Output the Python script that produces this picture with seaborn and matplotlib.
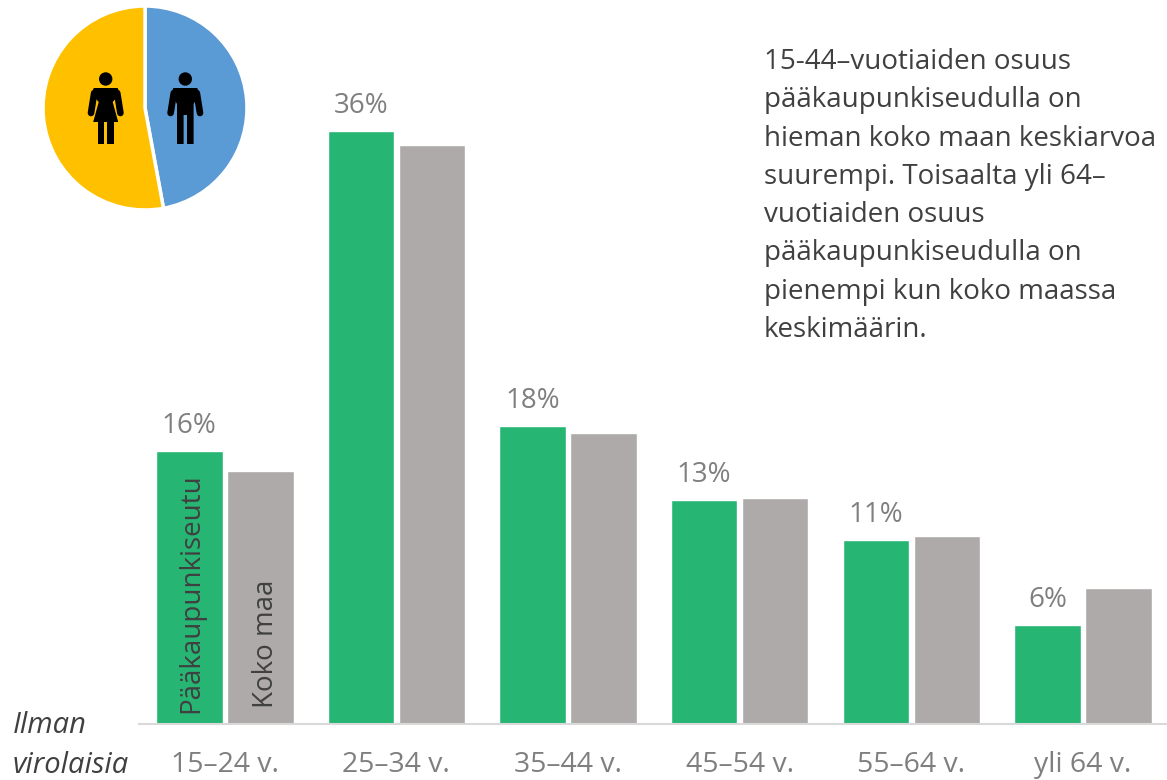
import pandas as pd
import seaborn as sns
import matplotlib.pyplot as plt
from matplotlib.patches import Circle, Polygon

# Data
age_groups = ['15–24 v.', '25–34 v.', '35–44 v.', '45–54 v.', '55–64 v.', 'yli 64 v.']
metro = [16.6, 36.05, 18.1, 13.6, 11.2, 6.0]
whole_country = [15.35, 35.2, 17.7, 13.75, 11.45, 8.25]
metro_labels = ['16%', '36%', '18%', '13%', '11%', '6%']
gender_labels = ['Miehet', 'Naiset']
gender_share = [47.1, 52.9]

note = ('15-44–vuotiaiden osuus\n'
        'pääkaupunkiseudulla on\n'
        'hieman koko maan keskiarvoa\n'
        'suurempi. Toisaalta yli 64–\n'
        'vuotiaiden osuus\n'
        'pääkaupunkiseudulla on\n'
        'pienempi kun koko maassa\n'
        'keskimäärin.')

W, H = 1167, 780
GREEN = '#27B574'
GRAY = '#AEAAAA'
TEXT_GRAY = '#7F7F7F'
TEXT_DARK = '#404040'

sns.set_theme(style='white')
plt.rcParams['font.family'] = ['Open Sans', 'DejaVu Sans']

df = pd.DataFrame({'age': age_groups, 'Pääkaupunkiseutu': metro, 'Koko maa': whole_country})
df = df.melt(id_vars='age', var_name='area', value_name='share')

fig = plt.figure(figsize=(W / 100, H / 100), dpi=100)
ax = fig.add_axes([139 / W, 56 / H, 1028 / W, 724 / H])
sns.barplot(data=df, x='age', y='share', hue='area', palette=[GREEN, GRAY],
            width=0.8275, gap=0.063, saturation=1, legend=False, ax=ax)
ax.set_xlim(-0.5, 5.49)
ax.set_ylim(0, 44.0)
ax.set_xlabel('')
ax.set_ylabel('')
ax.set_yticks([])
sns.despine(ax=ax, left=True)
ax.spines['bottom'].set_color('#D9D9D9')
ax.spines['bottom'].set_linewidth(1.5)
ax.tick_params(axis='x', length=0, pad=19.5, labelsize=20.4, labelcolor=TEXT_GRAY)
ax.bar_label(ax.containers[0], labels=metro_labels, padding=8, fontsize=20, color=TEXT_GRAY)

# Series names written inside the first pair of bars
ax.text(ax.containers[0][0].get_x() + ax.containers[0][0].get_width() / 2 + 0.01, 0.65,
        'Pääkaupunkiseutu', rotation=90, ha='center', va='bottom', fontsize=20, color=TEXT_DARK)
ax.text(ax.containers[1][0].get_x() + ax.containers[1][0].get_width() / 2 + 0.035, 0.97,
        'Koko maa', rotation=90, ha='center', va='bottom', fontsize=20, color=TEXT_DARK)

fig.text(13 / W, 1 - 733 / H, 'Ilman', style='italic', fontsize=21, color=TEXT_DARK, va='baseline')
fig.text(13 / W, 1 - 773 / H, 'virolaisia', style='italic', fontsize=21, color=TEXT_DARK, va='baseline')
fig.text(764 / W, 1 - 48 / H, note, fontsize=20, color=TEXT_DARK, va='top', linespacing=1.49)

# Gender pie in the top left corner
pie_ax = fig.add_axes([(145 - 103) / W, 1 - (108 + 103) / H, 206 / W, 206 / H])
pie_ax.pie(gender_share, colors=['#5B9BD5', '#FFC000'], startangle=90, counterclock=False,
           radius=1, wedgeprops={'edgecolor': 'white', 'linewidth': 2.5})
pie_ax.set_xlim(-1.01, 1.01)
pie_ax.set_ylim(-1.01, 1.01)

# Icons, drawn in reference pixels
icons = fig.add_axes([0, 0, 1, 1], facecolor='none')
icons.set_xlim(0, W)
icons.set_ylim(H, 0)
icons.axis('off')


def person(cx, skirt):
    top = 72
    icons.add_patch(Circle((cx, top + 7), 6.7, color='black', lw=0))
    for side in (-1, 1):
        icons.plot([cx + side * 11.5, cx + side * 14.7], [top + 21, top + 41], color='black',
                   lw=4.8, solid_capstyle='round')
    if skirt:
        icons.add_patch(Polygon([(cx - 12, top + 16), (cx + 12, top + 16), (cx + 14, top + 22),
                                 (cx + 7, top + 30), (cx + 12.5, top + 50), (cx - 12.5, top + 50),
                                 (cx - 7, top + 30), (cx - 14, top + 22)], color='black', lw=0))
        icons.add_patch(Polygon([(cx - 8, top + 50), (cx - 1.7, top + 50), (cx - 1.7, top + 72),
                                 (cx - 8, top + 72)], color='black', lw=0))
        icons.add_patch(Polygon([(cx + 1.7, top + 50), (cx + 8, top + 50), (cx + 8, top + 72),
                                 (cx + 1.7, top + 72)], color='black', lw=0))
    else:
        icons.add_patch(Polygon([(cx - 12, top + 16), (cx + 12, top + 16), (cx + 14, top + 22),
                                 (cx + 8.3, top + 32), (cx + 8.3, top + 72), (cx + 1.7, top + 72),
                                 (cx + 1.7, top + 43), (cx - 1.7, top + 43), (cx - 1.7, top + 72),
                                 (cx - 8.3, top + 72), (cx - 8.3, top + 32), (cx - 14, top + 22)],
                                color='black', lw=0))


person(185.3, False)
person(105.7, True)

fig.savefig('out.png', dpi=100)
